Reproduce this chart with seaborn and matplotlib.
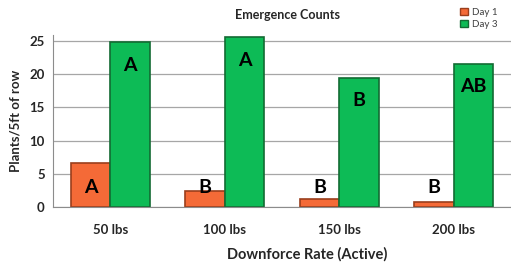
import pandas as pd
import numpy as np
import matplotlib.pyplot as plt
import seaborn as sns

rates = ["50 lbs", "100 lbs", "150 lbs", "200 lbs"]
day1 = [6.6, 2.45, 1.2, 0.7]
day3 = [24.8, 25.55, 19.5, 21.6]
day1_letters = ["A", "B", "B", "B"]
day3_letters = ["A", "A", "B", "AB"]

sns.set_style("white")
plt.rcParams['font.family'] = ['Lato', 'DejaVu Sans']

df = pd.DataFrame({
	"rate": rates * 2,
	"count": day1 + day3,
	"day": ["Day 1"] * 4 + ["Day 3"] * 4,
})

colours = {"Day 1": "#F46A37", "Day 3": "#0DBB56"}
edges = {"Day 1": "#9A3E1C", "Day 3": "#136B33"}

fig = plt.figure(figsize=(5.11, 2.66), dpi=100)
ax = fig.add_axes([53/511, 1-207/266, 458/511, 172/266])

sns.barplot(data=df, x="rate", y="count", hue="day", palette=colours,
			width=0.69, gap=0, ax=ax, legend=True, saturation=1)

for cont, day in zip(ax.containers, ["Day 1", "Day 3"]):
	for bar in cont:
		bar.set_edgecolor(edges[day])
		bar.set_linewidth(1.2)

# significance letters
for bar, lab in zip(ax.containers[0], day1_letters):
	ax.text(bar.get_x()+bar.get_width()/2, 3.0, lab, ha='center', va='center',
			fontsize=14, fontweight='bold', color='black')
for bar, lab in zip(ax.containers[1], day3_letters):
	ax.text(bar.get_x()+bar.get_width()/2, bar.get_height()-3.5, lab, ha='center', va='center',
			fontsize=14, fontweight='bold', color='black')

ax.set_ylim(0, 25.9)
ax.set_xlim(-0.5, 3.5)
ax.set_yticks([0, 5, 10, 15, 20, 25])
ax.yaxis.grid(True, color='#A6A6A6', lw=0.9)
ax.set_axisbelow(True)
for s in ['top', 'right']:
	ax.spines[s].set_visible(False)
for s in ['left', 'bottom']:
	ax.spines[s].set_color('#8C8C8C')
ax.tick_params(axis='both', length=0, labelsize=9.5, pad=6)
for t in ax.get_xticklabels() + ax.get_yticklabels():
	t.set_fontweight('bold')
ax.tick_params(axis='x', pad=12)

ax.set_xlabel("Downforce Rate (Active)", fontsize=10.5, fontweight='bold')
ax.xaxis.set_label_coords((307-53)/458, -0.235)
ax.set_ylabel("Plants/5ft of row", fontsize=9.5, fontweight='bold')
ax.yaxis.set_label_coords(-0.068, 0.5)

fig.text(287/511, 1-15/266, "Emergence Counts", ha='center', va='center',
		 fontsize=9, fontweight='bold')

leg = ax.legend(loc='upper left', bbox_to_anchor=(455/511, 1-3/266), bbox_transform=fig.transFigure,
				frameon=False, fontsize=7, handlelength=0.8, handleheight=0.8,
				handletextpad=0.4, labelspacing=0.3, borderpad=0)
for h, day in zip(leg.legend_handles, ["Day 1", "Day 3"]):
	h.set_edgecolor(edges[day])
for t in leg.get_texts():
	t.set_color('#404040')

fig.savefig("out.png", dpi=100)
